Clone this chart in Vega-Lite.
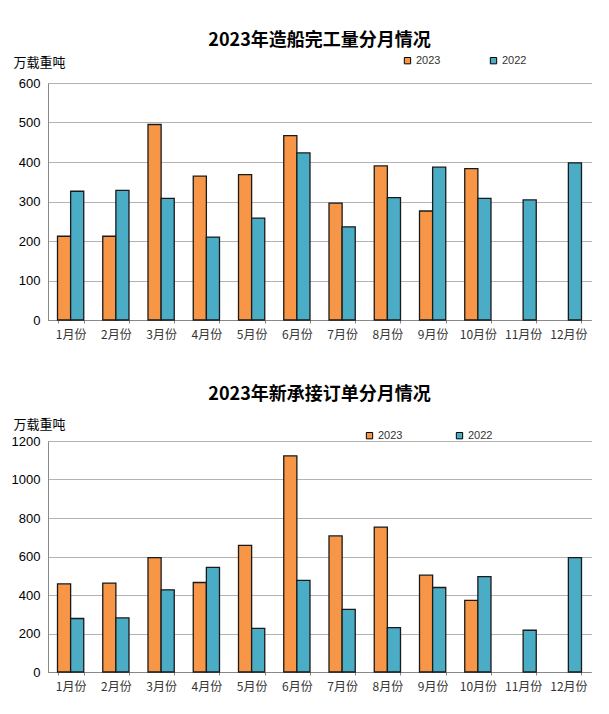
{
  "$schema": "https://vega.github.io/schema/vega-lite/v6.json",
  "background": "white",
  "padding": {"top": 32, "left": 11, "right": 10, "bottom": 10},
  "spacing": 46,
  "config": {
    "font": "Noto Sans CJK SC",
    "view": {"stroke": null},
    "title": {"fontSize": 18, "fontWeight": "bold", "font": "Noto Sans CJK SC", "color": "#000", "anchor": "middle"},
    "axis": {"labelFont": "Liberation Sans", "labelColor": "#000", "labelFontSize": 13, "domainColor": "#888", "tickColor": "#888"},
    "legend": {"labelFont": "Liberation Sans", "labelFontSize": 11, "labelColor": "#333", "symbolType": "square", "symbolSize": 40, "symbolStrokeColor": "#000", "symbolStrokeWidth": 1, "direction": "horizontal", "orient": "none", "title": null, "labelOffset": 3}
  },
  "resolve": {"legend": {"color": "independent"}},
  "datasets": {
    "completions": [
      {"month": "1月份", "year": "2023", "value": 212}, {"month": "1月份", "year": "2022", "value": 326},
      {"month": "2月份", "year": "2023", "value": 212}, {"month": "2月份", "year": "2022", "value": 328},
      {"month": "3月份", "year": "2023", "value": 495}, {"month": "3月份", "year": "2022", "value": 308},
      {"month": "4月份", "year": "2023", "value": 364}, {"month": "4月份", "year": "2022", "value": 210},
      {"month": "5月份", "year": "2023", "value": 368}, {"month": "5月份", "year": "2022", "value": 258},
      {"month": "6月份", "year": "2023", "value": 467}, {"month": "6月份", "year": "2022", "value": 423},
      {"month": "7月份", "year": "2023", "value": 296}, {"month": "7月份", "year": "2022", "value": 236},
      {"month": "8月份", "year": "2023", "value": 390}, {"month": "8月份", "year": "2022", "value": 310},
      {"month": "9月份", "year": "2023", "value": 276}, {"month": "9月份", "year": "2022", "value": 387},
      {"month": "10月份", "year": "2023", "value": 383}, {"month": "10月份", "year": "2022", "value": 308},
      {"month": "11月份", "year": "2022", "value": 304},
      {"month": "12月份", "year": "2022", "value": 398}
    ],
    "orders": [
      {"month": "1月份", "year": "2023", "value": 458}, {"month": "1月份", "year": "2022", "value": 278},
      {"month": "2月份", "year": "2023", "value": 462}, {"month": "2月份", "year": "2022", "value": 281},
      {"month": "3月份", "year": "2023", "value": 594}, {"month": "3月份", "year": "2022", "value": 427},
      {"month": "4月份", "year": "2023", "value": 465}, {"month": "4月份", "year": "2022", "value": 543},
      {"month": "5月份", "year": "2023", "value": 658}, {"month": "5月份", "year": "2022", "value": 227},
      {"month": "6月份", "year": "2023", "value": 1123}, {"month": "6月份", "year": "2022", "value": 476},
      {"month": "7月份", "year": "2023", "value": 707}, {"month": "7月份", "year": "2022", "value": 325},
      {"month": "8月份", "year": "2023", "value": 753}, {"month": "8月份", "year": "2022", "value": 231},
      {"month": "9月份", "year": "2023", "value": 503}, {"month": "9月份", "year": "2022", "value": 439},
      {"month": "10月份", "year": "2023", "value": 372}, {"month": "10月份", "year": "2022", "value": 495},
      {"month": "11月份", "year": "2022", "value": 217},
      {"month": "12月份", "year": "2022", "value": 594}
    ]
  },
  "vconcat": [
    {
      "title": {"text": "2023年造船完工量分月情况", "offset": 5},
      "width": 543,
      "height": 237,
      "data": {"name": "completions"},
      "mark": {"type": "bar", "stroke": "#1a1a1a", "strokeWidth": 1.3},
      "encoding": {
        "x": {
          "field": "month", "type": "nominal",
          "sort": ["1月份","2月份","3月份","4月份","5月份","6月份","7月份","8月份","9月份","10月份","11月份","12月份"],
          "scale": {"paddingInner": 0.42, "paddingOuter": 0.21},
          "axis": {"title": null, "labelAngle": 0, "labelFont": "Noto Sans CJK SC", "labelFontSize": 12, "labelColor": "#333", "tickBand": "extent", "tickSize": 3, "labelPadding": 6}
        },
        "xOffset": {"field": "year", "type": "nominal", "sort": ["2023", "2022"]},
        "y": {
          "field": "value", "type": "quantitative",
          "scale": {"domain": [0, 600], "nice": false},
          "axis": {"title": "万载重吨", "format": "d", "titleAngle": 0, "titleX": -35, "titleY": -21, "titleAlign": "left", "titleBaseline": "middle", "titleFontWeight": "normal", "titleFontSize": 13, "titleFont": "Noto Sans CJK SC", "tickCount": 6, "ticks": false, "labelPadding": 8, "grid": true, "gridColor": "#666", "gridDash": [1, 1]}
        },
        "color": {
          "field": "year", "type": "nominal",
          "scale": {"domain": ["2023", "2022"], "range": ["#F79646", "#4BACC6"]},
          "legend": {"legendX": 354, "legendY": -28, "columnPadding": 47}
        }
      }
    },
    {
      "title": {"text": "2023年新承接订单分月情况", "offset": 14},
      "width": 543,
      "height": 231,
      "data": {"name": "orders"},
      "mark": {"type": "bar", "stroke": "#1a1a1a", "strokeWidth": 1.3},
      "encoding": {
        "x": {
          "field": "month", "type": "nominal",
          "sort": ["1月份","2月份","3月份","4月份","5月份","6月份","7月份","8月份","9月份","10月份","11月份","12月份"],
          "scale": {"paddingInner": 0.42, "paddingOuter": 0.21},
          "axis": {"title": null, "labelAngle": 0, "labelFont": "Noto Sans CJK SC", "labelFontSize": 12, "labelColor": "#333", "tickBand": "extent", "tickSize": 3, "labelPadding": 6}
        },
        "xOffset": {"field": "year", "type": "nominal", "sort": ["2023", "2022"]},
        "y": {
          "field": "value", "type": "quantitative",
          "scale": {"domain": [0, 1200], "nice": false},
          "axis": {"title": "万载重吨", "format": "d", "titleAngle": 0, "titleX": -35, "titleY": -17, "titleAlign": "left", "titleBaseline": "middle", "titleFontWeight": "normal", "titleFontSize": 13, "titleFont": "Noto Sans CJK SC", "tickCount": 6, "ticks": false, "labelPadding": 8, "grid": true, "gridColor": "#666", "gridDash": [1, 1]}
        },
        "color": {
          "field": "year", "type": "nominal",
          "scale": {"domain": ["2023", "2022"], "range": ["#F79646", "#4BACC6"]},
          "legend": {"legendX": 316, "legendY": -11, "columnPadding": 51}
        }
      }
    }
  ]
}
